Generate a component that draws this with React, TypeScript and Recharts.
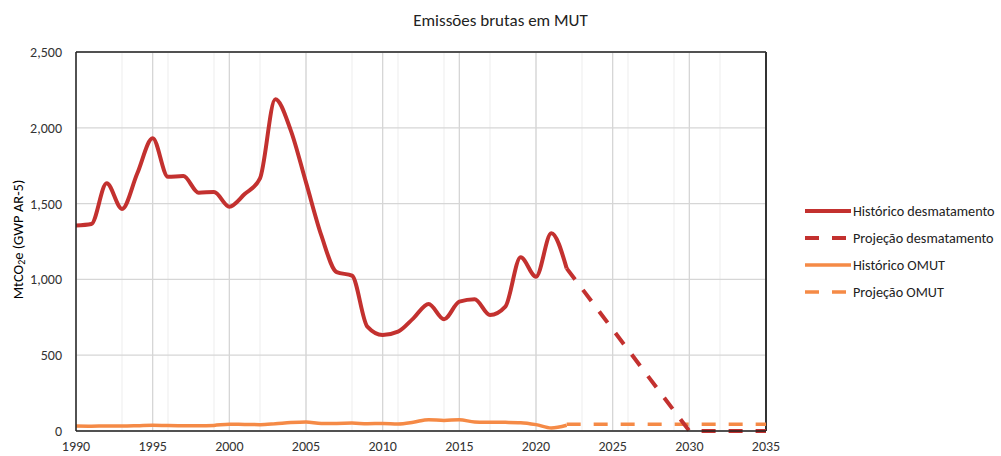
import React from 'react';
import {
  LineChart,
  Line,
  XAxis,
  YAxis,
  CartesianGrid,
  ReferenceLine,
} from 'recharts';

const TITLE = 'Emissões brutas em MUT';

const years = [
  1990, 1991, 1992, 1993, 1994, 1995, 1996, 1997, 1998, 1999, 2000, 2001, 2002,
  2003, 2004, 2005, 2006, 2007, 2008, 2009, 2010, 2011, 2012, 2013, 2014, 2015,
  2016, 2017, 2018, 2019, 2020, 2021, 2022,
];

const historicoDesmatamento = [
  1355, 1365, 1634, 1465, 1700, 1931, 1677, 1682, 1572, 1577, 1480, 1563, 1667,
  2188, 1985, 1640, 1290, 1048, 1025, 688, 633, 655, 743, 838, 737, 853, 869,
  765, 820, 1146, 1018, 1304, 1073,
];

const historicoOMUT = [
  33, 32, 33, 33, 35, 38, 36, 35, 34, 37, 45, 43, 42, 48, 56, 60, 50, 50, 52, 48,
  50, 47, 58, 75, 70, 74, 60, 58, 57, 55, 42, 20, 38,
];

const projYears = [2022, 2030, 2035];
const projecaoDesmatamento = [1073, 0, 0];

const projOmutYears = [2022, 2035];
const projecaoOMUT = [45, 45];

const allYears = [
  1990, 1991, 1992, 1993, 1994, 1995, 1996, 1997, 1998, 1999, 2000, 2001, 2002,
  2003, 2004, 2005, 2006, 2007, 2008, 2009, 2010, 2011, 2012, 2013, 2014, 2015,
  2016, 2017, 2018, 2019, 2020, 2021, 2022, 2023, 2024, 2025, 2026, 2027, 2028,
  2029, 2030, 2031, 2032, 2033, 2034, 2035,
];
const xTicks = [1990, 1995, 2000, 2005, 2010, 2015, 2020, 2025, 2030, 2035];
const yTicks = [0, 500, 1000, 1500, 2000, 2500];

const RED = '#C3312F';
const ORANGE = '#F58A46';
const FONT = 'Carlito, Calibri, Lato, "Liberation Sans", Arial, sans-serif';

const histDes = years.map((y, i) => ({ x: y, v: historicoDesmatamento[i] }));
const histOm = years.map((y, i) => ({ x: y, v: historicoOMUT[i] }));
const projDes = projYears.map((y, i) => ({ x: y, v: projecaoDesmatamento[i] }));
const projOm = projOmutYears.map((y, i) => ({ x: y, v: projecaoOMUT[i] }));

const legendItems = [
  { label: 'Histórico desmatamento', color: RED, dash: undefined, w: 4 },
  { label: 'Projeção desmatamento', color: RED, dash: '14 13', w: 4 },
  { label: 'Histórico OMUT', color: ORANGE, dash: undefined, w: 3.5 },
  { label: 'Projeção OMUT', color: ORANGE, dash: '14 13', w: 3.5 },
];

const fmt = (v: number) => v.toLocaleString('en-US');

const YLabel = (props: any) => {
  const vb = props.viewBox || {};
  const cx = 18;
  const cy = vb.y + vb.height / 2 - 2;
  return (
    <text
      x={cx}
      y={cy}
      transform={`rotate(-90, ${cx}, ${cy})`}
      textAnchor="middle"
      dominantBaseline="central"
      fontSize={14.5}
      fill="#000"
      fontFamily={FONT}
    >
      MtCO<tspan fontSize={10} dy={3}>2</tspan>
      <tspan dy={-3}>e (GWP AR-5)</tspan>
    </text>
  );
};

export default function App() {
  return (
    <div style={{ position: 'absolute', left: 0, top: 0, width: 1001, height: 456, background: '#fff', fontFamily: FONT }}>
      <div
        style={{
          position: 'absolute',
          top: 10,
          left: 0,
          width: 1001,
          textAlign: 'center',
          fontSize: 17,
          color: '#222',
          fontFamily: FONT,
        }}
      >
        {TITLE}
      </div>
      <LineChart
        width={1001}
        height={456}
        margin={{ top: 52, right: 235, bottom: 0, left: 0 }}
        style={{ position: 'absolute', left: 0, top: 0 }}
      >
        <CartesianGrid
          horizontal={false}
          vertical={true}
          verticalValues={allYears}
          stroke="#EDEDED"
          strokeWidth={1}
        />
        <CartesianGrid
          horizontal={true}
          vertical={true}
          verticalValues={xTicks}
          horizontalValues={yTicks}
          stroke="#D6D6D6"
          strokeWidth={1.3}
        />
        <XAxis
          type="number"
          dataKey="x"
          domain={[1990, 2035]}
          ticks={xTicks}
          allowDataOverflow
          height={25}
          tickLine={false}
          axisLine={{ stroke: '#222', strokeWidth: 1.5 }}
          tick={{ fontSize: 14, fill: '#333', fontFamily: FONT }}
          tickMargin={4}
        />
        <YAxis
          type="number"
          domain={[0, 2500]}
          ticks={yTicks}
          width={76}
          tickLine={false}
          axisLine={{ stroke: '#222', strokeWidth: 1.5 }}
          tick={{ fontSize: 14, fill: '#333', fontFamily: FONT }}
          tickFormatter={fmt}
          tickMargin={8}
          label={<YLabel />}
        />
        <ReferenceLine y={2500} stroke="#222" strokeWidth={1.5} />
        <ReferenceLine x={2035} stroke="#333" strokeWidth={2} />
        <Line
          data={histOm}
          dataKey="v"
          type="monotone"
          stroke={ORANGE}
          strokeWidth={3.5}
          dot={false}
          isAnimationActive={false}
        />
        <Line
          data={projOm}
          dataKey="v"
          type="linear"
          stroke={ORANGE}
          strokeWidth={3.5}
          strokeDasharray="14 13"
          dot={false}
          isAnimationActive={false}
        />
        <Line
          data={projDes}
          dataKey="v"
          type="linear"
          stroke={RED}
          strokeWidth={4}
          strokeDasharray="14 13"
          dot={false}
          isAnimationActive={false}
        />
        <Line
          data={histDes}
          dataKey="v"
          type="monotone"
          stroke={RED}
          strokeWidth={4}
          dot={false}
          isAnimationActive={false}
        />
      </LineChart>
      <div style={{ position: 'absolute', left: 805, top: 197 }}>
        {legendItems.map((it) => (
          <div key={it.label} style={{ display: 'flex', alignItems: 'center', height: 27 }}>
            <svg width={46} height={10} style={{ marginRight: 2 }}>
              <line
                x1={0}
                y1={5}
                x2={46}
                y2={5}
                stroke={it.color}
                strokeWidth={it.w}
                strokeDasharray={it.dash}
              />
            </svg>
            <span style={{ fontSize: 14.2, color: '#222', whiteSpace: 'nowrap' }}>{it.label}</span>
          </div>
        ))}
      </div>
    </div>
  );
}
